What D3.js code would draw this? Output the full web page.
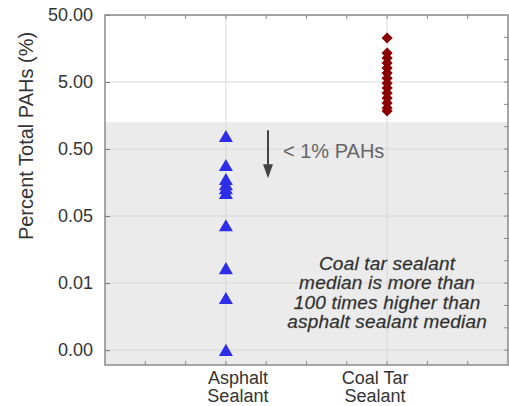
<!DOCTYPE html>
<html>
<head>
<meta charset="utf-8">
<script src="https://cdn.jsdelivr.net/npm/d3@7"></script>
<style>
body { margin: 0; background: #fff; }
text { font-family: "Liberation Sans", Arial, sans-serif; }
</style>
</head>
<body>
<svg width="509" height="406"></svg>
<script>
var categories = ["Asphalt Sealant", "Coal Tar Sealant"];
var asphalt = [0.73, 0.27, 0.167, 0.14, 0.122, 0.103, 0.034, 0.0078, 0.0028, 0.00047];
var coalTar = [22.7, 13.5, 11.4, 9.6, 8.1, 6.8, 5.7, 4.8, 4.07, 3.43, 2.88, 2.43, 2.05, 1.85];
var yTicks = [50, 5, 0.5, 0.05, 0.005, 0.0005];
var yTickLabels = ["50.00", "5.00", "0.50", "0.05", "0.01", "0.00"];
var shadeMax = 1.26;

var svg = d3.select("svg");
var pLeft = 105, pRight = 508, pTop = 15, pBottom = 365;

var x = d3.scalePoint().domain(categories).range([pLeft, pRight]).padding(0.75);
var y = d3.scaleLog().domain([0.0003, 50]).range([pBottom, pTop]);

// shaded area below the 1% line
svg.append("rect")
  .attr("x", pLeft).attr("y", y(shadeMax))
  .attr("width", pRight - pLeft).attr("height", pBottom - y(shadeMax))
  .attr("fill", "#ebebeb");

// grid
svg.append("g").selectAll("line").data(yTicks).enter().append("line")
  .attr("x1", pLeft).attr("x2", pRight)
  .attr("y1", d => y(d)).attr("y2", d => y(d))
  .attr("stroke", "#d8d8d8").attr("stroke-width", 1);
svg.append("g").selectAll("line").data(categories).enter().append("line")
  .attr("x1", d => x(d)).attr("x2", d => x(d))
  .attr("y1", pTop).attr("y2", pBottom)
  .attr("stroke", "#d8d8d8").attr("stroke-width", 1);

// minor ticks top / bottom
var minorX = d3.range(1, 10).map(i => pLeft + i * x.step() / 4);
var tk = svg.append("g").attr("stroke", "#888").attr("stroke-width", 1);
minorX.forEach(function(px) {
  tk.append("line").attr("x1", px).attr("x2", px).attr("y1", pTop).attr("y2", pTop + 4);
  tk.append("line").attr("x1", px).attr("x2", px).attr("y1", pBottom).attr("y2", pBottom - 4);
});
// minor ticks right side, every third of a decade
d3.range(1, 16).forEach(function(k) {
  var py = y(50 * Math.pow(10, -k / 3));
  tk.append("line").attr("x1", pRight).attr("x2", pRight - 4).attr("y1", py).attr("y2", py);
});

// y axis
var yAxis = svg.append("g")
  .attr("transform", "translate(" + pLeft + ",0)")
  .call(d3.axisLeft(y).tickValues(yTicks).tickSize(-5).tickPadding(12)
    .tickFormat((d, i) => yTickLabels[i]));
yAxis.select(".domain").remove();
yAxis.selectAll(".tick line").attr("stroke", "#777");
yAxis.selectAll("text").attr("font-size", 18).attr("fill", "#333")
  .attr("font-family", "Liberation Sans, Arial, sans-serif");

// frame
svg.append("rect")
  .attr("x", pLeft).attr("y", pTop)
  .attr("width", pRight - pLeft).attr("height", pBottom - pTop)
  .attr("fill", "none").attr("stroke", "#8a8a8a").attr("stroke-width", 1.5);

// x labels (shifted slightly toward the centre, as in the original)
var xl = svg.append("g").selectAll("text").data(categories).enter().append("text")
  .attr("y", 384)
  .attr("text-anchor", "middle").attr("font-size", 18).attr("fill", "#333");
xl.each(function(d, i) {
  var parts = d.split(" ");
  var cx = x(d) + (i === 0 ? 12 : -12);
  var t = d3.select(this);
  t.append("tspan").attr("x", cx).attr("dy", 0).text(parts.slice(0, -1).join(" "));
  t.append("tspan").attr("x", cx).attr("dy", 17.5).text(parts[parts.length - 1]);
});

// y title
svg.append("text")
  .attr("transform", "translate(33,136) rotate(-90)")
  .attr("text-anchor", "middle").attr("font-size", 20).attr("fill", "#333")
  .text("Percent Total PAHs (%)");

// points
svg.append("g").selectAll("path").data(asphalt).enter().append("path")
  .attr("d", d3.symbol().type(d3.symbolTriangle).size(85))
  .attr("transform", d => "translate(" + x(categories[0]) + "," + y(d) + ")")
  .attr("fill", "#2e2ee8");
svg.append("g").selectAll("path").data(coalTar).enter().append("path")
  .attr("d", d3.symbol().type(d3.symbolSquare).size(62))
  .attr("transform", d => "translate(" + x(categories[1]) + "," + y(d) + ") rotate(45)")
  .attr("fill", "#8b0000");

// arrow + label
var ax = 268, ay = y(shadeMax) + 8;
svg.append("line").attr("x1", ax).attr("x2", ax).attr("y1", ay).attr("y2", ay + 38)
  .attr("stroke", "#444").attr("stroke-width", 2);
svg.append("path")
  .attr("d", "M" + (ax - 5) + "," + (ay + 34) + "L" + (ax + 5) + "," + (ay + 34) + "L" + ax + "," + (ay + 48) + "Z")
  .attr("fill", "#444");
svg.append("text").attr("x", 283).attr("y", 158)
  .attr("font-size", 20).attr("fill", "#666").text("< 1% PAHs");

// note
var note = ["Coal tar sealant", "median is more than", "100 times higher than", "asphalt sealant median"];
svg.append("g").selectAll("text").data(note).enter().append("text")
  .attr("x", x(categories[1])).attr("y", (d, i) => 270 + i * 19.3)
  .attr("text-anchor", "middle").attr("font-size", 19).attr("font-style", "italic")
  .attr("letter-spacing", 0.2)
  .attr("fill", "#2a2a2a").attr("stroke", "#555").attr("stroke-width", 0.3)
  .text(d => d);
</script>
</body>
</html>
